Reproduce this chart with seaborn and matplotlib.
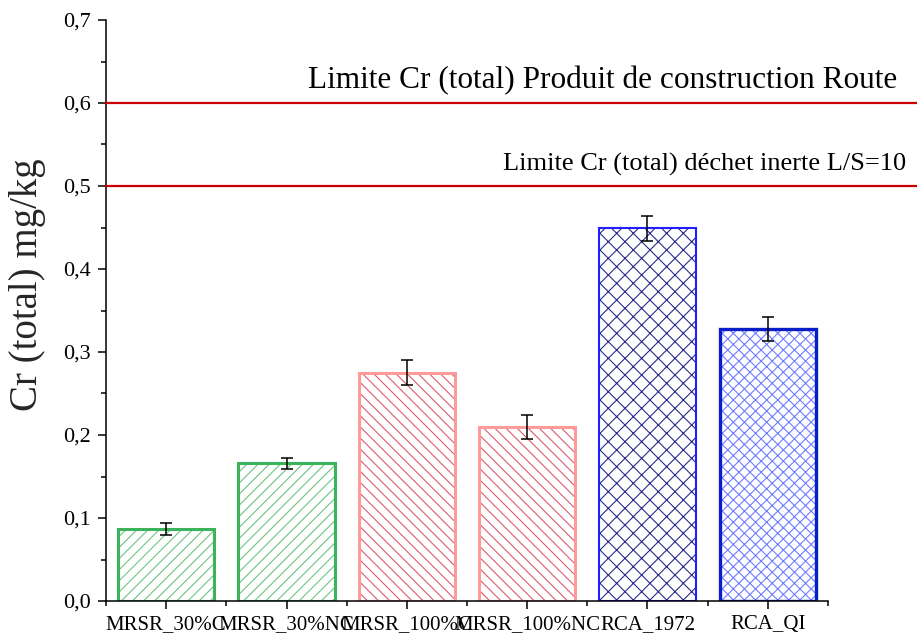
import numpy as np
import pandas as pd
import matplotlib
matplotlib.use("Agg")
import matplotlib.pyplot as plt
import matplotlib.transforms as mtransforms
from matplotlib.ticker import MultipleLocator, FixedLocator, FuncFormatter
import seaborn as sns

# Total chromium release per material (mg/kg) and its standard deviation
samples = ["MRSR_30%C", "MRSR_30%NC", "MRSR_100%C", "MRSR_100%NC", "RCA_1972", "RCA_QI"]
cr_total = [0.087, 0.166, 0.275, 0.210, 0.449, 0.328]
cr_err = [0.007, 0.0066, 0.015, 0.0145, 0.015, 0.0147]

# Regulatory thresholds
limit_values = [0.6, 0.5]
limit_labels = ["Limite Cr (total) Produit de construction Route",
                "Limite Cr (total) déchet inerte L/S=10"]

# Styling per bar
edge_colors = ["#3cb35a", "#3cb35a", "#ff9a9a", "#ff9a9a", "#1e1eff", "#0a1ec8"]
hatch_colors = ["#6cc47e", "#6cc47e", "#dd5a6e", "#dd5a6e", "#2a2a8c", "#6f7dff"]
hatches = ["///", "///", "\\\\\\", "\\\\\\", "xx", "xxx"]
edge_widths = [2.2, 2.2, 2.2, 2.2, 1.5, 2.4]

sns.set_theme(style="ticks")
plt.rcParams["font.family"] = ["Liberation Serif", "DejaVu Serif"]
plt.rcParams["hatch.linewidth"] = 0.8

df = pd.DataFrame({"sample": samples, "cr": cr_total})

fig = plt.figure(figsize=(9.17, 6.35), dpi=100)
ax = fig.add_axes([106 / 917, 34 / 635, 722 / 917, 581 / 635])

# Hatch layer
sns.barplot(data=df, x="sample", y="cr", hue="sample", order=samples,
            hue_order=samples, palette=dict(zip(samples, hatch_colors)),
            width=0.8, errorbar=None, legend=False, ax=ax)
hatch_patches = list(ax.patches)
for p, hc, h in zip(hatch_patches, hatch_colors, hatches):
    p.set_facecolor("white")
    p.set_edgecolor(hc)
    p.set_hatch(h)
    p.set_linewidth(0)

# Outline layer
sns.barplot(data=df, x="sample", y="cr", hue="sample", order=samples,
            hue_order=samples, palette=dict(zip(samples, edge_colors)),
            width=0.8, errorbar=None, legend=False, fill=False, ax=ax)
outline_patches = [p for p in ax.patches if p not in hatch_patches]
for p, ec, lw in zip(outline_patches, edge_colors, edge_widths):
    p.set_facecolor("none")
    p.set_edgecolor(ec)
    p.set_linewidth(lw)
    p.set_joinstyle("miter")

# Error bars
ax.errorbar(samples, cr_total, yerr=cr_err, fmt="none", ecolor="black",
            elinewidth=1.1, capsize=4.5, capthick=1.1, zorder=5)

ax.set_xlim(-0.5, 5.5)
ax.set_ylim(0, 0.7)

# Limit lines extend to the right edge of the figure
ext = (917 - 106) / 722
for v in limit_values:
    ax.axhline(v, xmin=0, xmax=ext, color="#cc0000", lw=1.6, clip_on=False, zorder=4)

trans = mtransforms.blended_transform_factory(fig.transFigure, ax.transData)
ax.text(897 / 917, 0.618, limit_labels[0], transform=trans, ha="right",
        va="baseline", fontsize=22.5, color="black")
ax.text(906 / 917, 0.519, limit_labels[1], transform=trans, ha="right",
        va="baseline", fontsize=19, color="black")

# Axes styling
sns.despine(ax=ax, top=True, right=True)
for s in ["left", "bottom"]:
    ax.spines[s].set_linewidth(1.1)
    ax.spines[s].set_color("black")

ax.yaxis.set_major_locator(MultipleLocator(0.1))
ax.yaxis.set_minor_locator(MultipleLocator(0.05))
ax.yaxis.set_major_formatter(FuncFormatter(lambda v, _: f"{v:.1f}".replace(".", ",")))
ax.xaxis.set_minor_locator(FixedLocator(np.arange(-0.5, 6.0, 1.0)))

ax.tick_params(axis="both", which="major", direction="out", length=6, width=1.1,
               color="black", labelcolor="black")
ax.tick_params(axis="both", which="minor", direction="out", length=3.5, width=1.1,
               color="black")
ax.tick_params(axis="y", labelsize=16, pad=5)
ax.tick_params(axis="x", labelsize=15, pad=4)

ax.set_xlabel("")
ax.set_ylabel("Cr (total) mg/kg", fontsize=28)
ax.yaxis.set_label_coords(-0.083, 0.545)

fig.savefig("out.png", dpi=100)
